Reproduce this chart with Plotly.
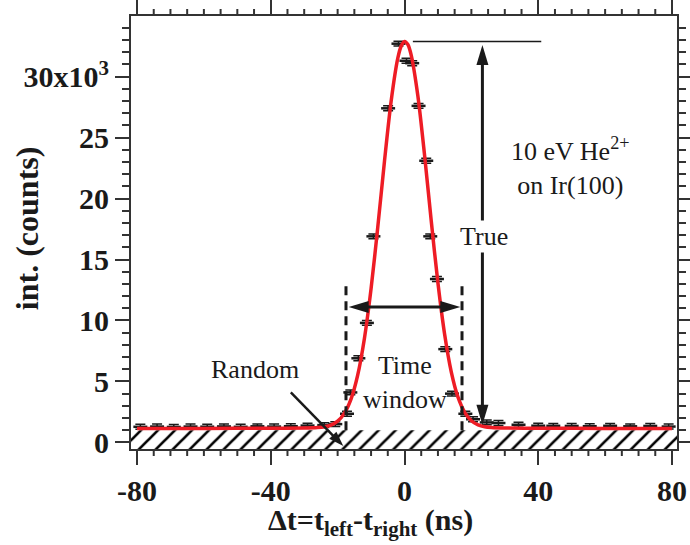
import math
import plotly.graph_objects as go

# ---- measured time-difference spectrum (counts per bin) ----
dt_ns = [-79, -74, -69, -64, -59, -54, -49, -44, -39, -34, -29, -24, -20.7,
         -17.2, -16.2, -13.8, -11.25, -9.3, -4.9, -1.8, 0.6, 2.3, 4.2, 6.5,
         7.7, 9.7, 12.2, 14.2, 18.2, 20.5, 24.6, 28.1, 34.1, 40, 44.5, 50,
         55.4, 61.5, 67.5, 73.5, 79]
counts = [1280, 1300, 1270, 1300, 1290, 1310, 1280, 1320, 1300, 1330, 1380, 1420, 1500,
          2350, 4100, 6900, 9800, 16900, 27400, 32700, 31300, 31100, 27600, 23100,
          16900, 13400, 7650, 4000, 2350, 1900, 1640, 1590, 1450, 1370, 1360, 1350,
          1330, 1360, 1320, 1350, 1300]
count_err = [200] * len(counts)

# ---- fitted peak on top of the flat random background ----
fit_dt_ns = [-80, -60, -40, -30, -26, -24, -22, -20, -18, -16, -14, -12, -10, -8,
             -6, -4, -2, -1, 0, 1, 2, 4, 6, 8, 10, 12, 14, 16, 18, 20, 22, 24,
             26, 30, 40, 60, 80]
fit_counts = [1150, 1150, 1160, 1180, 1220, 1280, 1420, 1740, 2380, 3550, 5520, 8510,
              12610, 17630, 23030, 27980, 31510, 32500, 32880, 32630, 31760, 28410,
              23560, 18160, 13070, 8870, 5770, 3710, 2470, 1780, 1440, 1280, 1220,
              1180, 1160, 1150, 1150]

random_level = 1000            # random-coincidence floor (hatched)
window_ns = [-17.5, 17.2]      # accepted time window
window_top = 12800
peak_level = 32870             # height of the true-coincidence peak
true_dt_ns = 23.3              # where the "True" arrow is drawn

x_ticks = [-80, -40, 0, 40, 80]
x_minor = [v for v in range(-80, 81, 5) if v not in x_ticks]
y_ticks = [0, 5000, 10000, 15000, 20000, 25000, 30000]
y_ticktext = ["0", "5", "10", "15", "20", "25", "30x10<sup>3</sup>"]
y_minor = list(range(0, 35000, 1000))

# ---- layout geometry ----
W, H = 690, 545
M = dict(l=131, r=13, t=16, b=96)
XR = [-81.8, 81.5]
YR = [-540, 34970]
PW = W - M["l"] - M["r"]
PH = H - M["t"] - M["b"]
PX_X = PW / (XR[1] - XR[0])
PX_Y = PH / (YR[1] - YR[0])

SERIF = "Liberation Serif"
INK = "#1a1a1a"
AXIS = "#333333"
RED = "#ee1c25"

shapes = []


def head(tx, ty, ux, uy, length, half):
    """Filled narrow triangle, tip at (tx, ty) in data units, pointing along (ux, uy) in pixels."""
    bx, by = -ux * length, -uy * length
    nx, ny = -uy * half, ux * half
    path = (f"M0,0 L{bx + nx:.2f},{by + ny:.2f} "
            f"L{bx - nx:.2f},{by - ny:.2f} Z")
    shapes.append(dict(type="path", path=path, xref="x", yref="y",
                       xsizemode="pixel", ysizemode="pixel",
                       xanchor=tx, yanchor=ty,
                       fillcolor=INK, line=dict(width=0)))


def arrow(x0, y0, x1, y1, start=False, end=True, width=3, length=20, half=6):
    dxp = (x1 - x0) * PX_X
    dyp = (y1 - y0) * PX_Y
    L = math.hypot(dxp, dyp)
    ux, uy = dxp / L, dyp / L
    trim = length * 0.7
    sx0, sy0, sx1, sy1 = x0, y0, x1, y1
    if end:
        sx1 = x1 - ux * trim / PX_X
        sy1 = y1 - uy * trim / PX_Y
        head(x1, y1, ux, uy, length, half)
    if start:
        sx0 = x0 + ux * trim / PX_X
        sy0 = y0 + uy * trim / PX_Y
        head(x0, y0, -ux, -uy, length, half)
    shapes.append(dict(type="line", xref="x", yref="y", x0=sx0, y0=sy0, x1=sx1, y1=sy1,
                       line=dict(color=INK, width=width)))


fig = go.Figure()

# hatched random background
fig.add_trace(go.Scatter(
    x=[-200, 200, 200, -200, -200],
    y=[-5000, -5000, random_level, random_level, -5000],
    mode="lines", fill="toself", line=dict(width=0),
    fillcolor="white",
    fillpattern=dict(shape="/", size=12, solidity=0.22, fgcolor="black",
                     fgopacity=1, bgcolor="white"),
    hoverinfo="skip", showlegend=False,
))

# measured points with error bars
fig.add_trace(go.Scatter(
    x=dt_ns, y=counts, mode="markers",
    marker=dict(symbol="line-ew", size=10, line=dict(width=2.5, color=INK), color=INK),
    error_y=dict(type="data", array=count_err, visible=True, color=INK,
                 thickness=1.5, width=5),
    showlegend=False,
))

# fit
fig.add_trace(go.Scatter(
    x=fit_dt_ns, y=fit_counts, mode="lines",
    line=dict(color=RED, width=3.5, shape="spline", smoothing=0.8),
    showlegend=False,
))

# 5 ns minor ticks on the bottom and top frame edges (paper coordinates, unclipped)
minor_len = 7 / PH
for xv in x_minor:
    xp = (xv - XR[0]) / (XR[1] - XR[0])
    for y0, y1 in ((0, -minor_len), (1, 1 + minor_len)):
        shapes.append(dict(type="line", xref="paper", yref="paper",
                           x0=xp, x1=xp, y0=y0, y1=y1,
                           line=dict(color=AXIS, width=2)))

# time-window edges
for xw in window_ns:
    shapes.append(dict(type="line", xref="x", yref="y", x0=xw, x1=xw,
                       y0=random_level, y1=window_top,
                       line=dict(color=INK, width=3, dash="9px,6px")))

# window width arrow
arrow(window_ns[0] + 0.8, 11100, window_ns[1] - 0.5, 11100, start=True, end=True)

# peak reference line and "True" arrow
shapes.append(dict(type="line", xref="x", yref="y", x0=2.5, x1=40.9,
                   y0=peak_level, y1=peak_level, line=dict(color=INK, width=1.5)))
arrow(true_dt_ns, 1450, true_dt_ns, 32600, start=True, end=True)

# "Random" pointer
arrow(-34, 4100, -18.3, -300, start=False, end=True, width=2.5, length=15, half=5)

ann_font = dict(family=SERIF, size=26, color=INK)
annotations = [
    dict(x=49.6, y=22600, text="10 eV He<sup>2+</sup><br>on Ir(100)", showarrow=False,
         font=ann_font, xref="x", yref="y", align="center",
         xanchor="center", yanchor="middle"),
    dict(x=23.7, y=16900, text="True", showarrow=False, font=ann_font,
         xref="x", yref="y", bgcolor="white", borderpad=1,
         xanchor="center", yanchor="middle"),
    dict(x=0.2, y=4930, text="Time<br>window", showarrow=False, font=ann_font,
         xref="x", yref="y", align="center", xanchor="center", yanchor="middle"),
    dict(x=-44.6, y=5960, text="Random", showarrow=False, font=ann_font,
         xref="x", yref="y", xanchor="center", yanchor="middle"),
    dict(x=(27 - M["l"]) / PW, y=0.51, xref="paper", yref="paper",
         text="int. (counts)", textangle=-90, showarrow=False,
         xanchor="center", yanchor="middle",
         font=dict(family=SERIF, size=32, color=INK, weight="bold")),
    dict(x=(370 - M["l"]) / PW, y=-0.218, xref="paper", yref="paper",
         text="\u0394t=t<sub>left</sub>-t<sub>right</sub> (ns)", showarrow=False,
         xanchor="center", yanchor="bottom",
         font=dict(family=SERIF, size=30, color=INK, weight="bold")),
]

tick_font = dict(family=SERIF, size=30, color=INK, weight="bold")
axis_common = dict(showgrid=False, zeroline=False, showline=True, linecolor=AXIS,
                   linewidth=2, mirror="ticks", ticks="outside", tickcolor=AXIS,
                   tickwidth=2, ticklen=14, tickfont=tick_font, automargin=False,
                   tickmode="array")

fig.update_layout(
    template="none",
    width=W, height=H, margin=M,
    paper_bgcolor="white", plot_bgcolor="white",
    xaxis=dict(range=XR, tickvals=x_ticks, ticktext=[str(v) for v in x_ticks],
               **axis_common),
    yaxis=dict(range=YR, tickvals=y_ticks, ticktext=y_ticktext,
               minor=dict(tickmode="array", tickvals=y_minor, ticks="outside",
                          ticklen=7, tickwidth=2, tickcolor=AXIS, showgrid=False),
               **axis_common),
    shapes=shapes,
    annotations=annotations,
    showlegend=False,
)

fig.write_html("out.html")
